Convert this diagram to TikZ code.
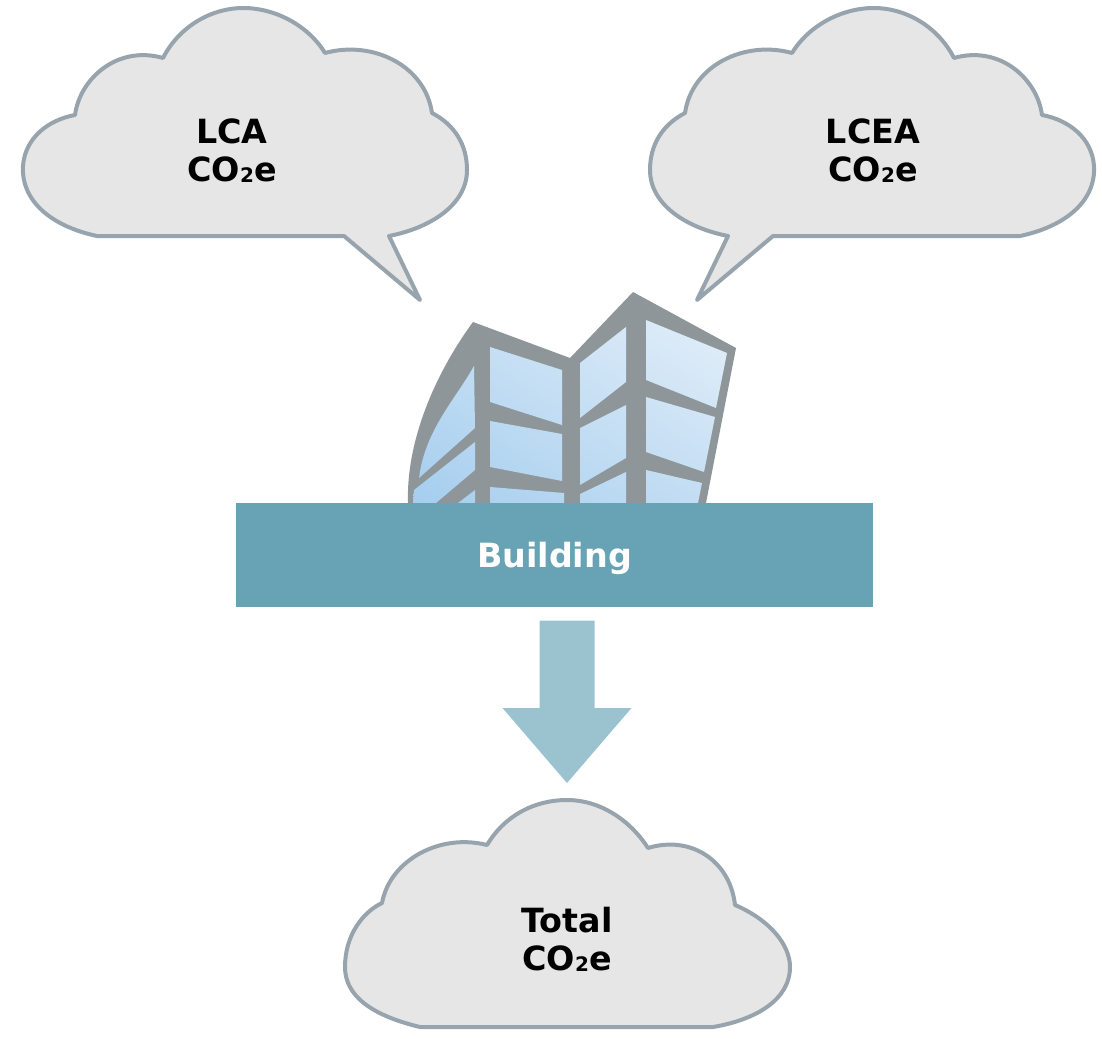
\documentclass[tikz,border=0pt]{standalone}
\usepackage{fontspec}
\setmainfont{DejaVu Sans}
\usetikzlibrary{calc,shadings}

\definecolor{cloudfill}{HTML}{E6E6E6}
\definecolor{cloudline}{HTML}{97A4AD}
\definecolor{barteal}{HTML}{67A3B4}
\definecolor{arrowblue}{HTML}{9BC3CF}
\definecolor{framegray}{HTML}{8E969A}
\definecolor{glasslo}{HTML}{A4CDEE}
\definecolor{glassmid}{HTML}{C6DFF4}
\definecolor{glasshi}{HTML}{EAF2FA}

\newcommand{\cotwoe}{CO\raisebox{-0.8pt}{\fontsize{15}{15}\selectfont 2}e}

% speech bubble outline, tail pointing down-right
\newcommand{\bubble}{(97,236) .. controls (50,226) and (21,200) .. (23,166)
  .. controls (25,138) and (48,120) .. (75,115)
  .. controls (80,78) and (118,45) .. (163,58)
  .. controls (180,25) and (213,8) .. (243,8)
  .. controls (278,8) and (310,28) .. (325,53)
  .. controls (372,40) and (425,65) .. (432,113)
  .. controls (455,125) and (467,145) .. (467,170)
  .. controls (467,205) and (430,228) .. (389,236)
  -- (420,300) -- (344,236) -- cycle}

\tikzset{every picture/.style={line width=0.75pt},
  cloudbody/.style={draw=cloudline, fill=cloudfill, line width=3pt, line join=round},
  cloudtext/.style={font=\fontsize{25}{28.5}\selectfont\bfseries, align=center, inner sep=0pt},
  bldgbar/.style={fill=barteal, minimum width=477.75pt, minimum height=78pt, inner sep=0pt,
    text=white, font=\fontsize{25}{30}\selectfont\bfseries, text height=19pt, text depth=0pt},
  flowarrow/.style={fill=arrowblue}
}

\begin{document}
\begin{tikzpicture}[x=0.75pt,y=0.75pt,yscale=-1,xscale=1]
\useasboundingbox (0,0) rectangle (1102,1038);

%Speech clouds
\draw[cloudbody] \bubble;
\begin{scope}[shift={(1117,0)}, xscale=-1]
\draw[cloudbody] \bubble;
\end{scope}

%Result cloud
\draw[cloudbody] (420,1027) .. controls (370,1015) and (345,995) .. (345,967)
  .. controls (345,935) and (363,912) .. (382,903)
  .. controls (390,860) and (440,833) .. (487,845)
  .. controls (505,815) and (535,800) .. (567,800)
  .. controls (600,800) and (630,820) .. (648,848)
  .. controls (690,835) and (730,860) .. (735,905)
  .. controls (770,920) and (790,945) .. (790,967)
  .. controls (790,1000) and (755,1020) .. (713,1027) -- cycle;

%Building frame
\fill[framegray] (408,503) .. controls (406,445) and (432,378) .. (473,322) -- (570,358)
  -- (633,292) -- (736,348) -- (706,503) -- cycle;

%Glass panes
\begin{scope}
\clip (474,366) .. controls (455,400) and (425,430) .. (419,478) -- (475,428) -- cycle
  (475,442) -- (475,470) -- (436,503) -- (413,503) -- (414,490) -- cycle
  (475,490) -- (475,503) -- (458,503) -- cycle
  (490,347) -- (562,370) -- (562,425) -- (490,402) -- cycle
  (490,421) -- (562,434) -- (562,481) -- (490,467) -- cycle
  (490,487) -- (564,493) -- (564,503) -- (490,503) -- cycle
  (580,363) -- (626,327) -- (626,382) -- (580,418) -- cycle
  (580,428) -- (626,405) -- (626,458) -- (580,485) -- cycle
  (580,494) -- (626,472) -- (626,503) -- (580,503) -- cycle
  (646,320) -- (727,353) -- (716,408) -- (646,380) -- cycle
  (646,397) -- (715,417) -- (704,472) -- (646,452) -- cycle
  (646,470) -- (702,483) -- (698,503) -- (646,503) -- cycle;
\shade[lower left=glasslo, upper right=glasshi, upper left=glassmid, lower right=glassmid]
  (405,285) rectangle (740,505);
\end{scope}

%Base bar and flow arrow
\node[bldgbar] (bar) at (554.5,555) {Building};
\coordinate (tip) at (567,783);
\fill[flowarrow] ($(bar.south -| tip)+(-27.5,13)$) -- ($(bar.south -| tip)+(27.5,13)$)
  -- ($(tip)+(27.5,-75)$) -- ($(tip)+(64.5,-75)$) -- (tip)
  -- ($(tip)+(-64.5,-75)$) -- ($(tip)+(-27.5,-75)$) -- cycle;

% Text Node
\node[cloudtext] (lca) at (232,151) {LCA\\\cotwoe};
% Text Node
\node[cloudtext] (lcea) at (873,151) {LCEA\\\cotwoe};
% Text Node
\node[cloudtext] (total) at (567,939) {Total\\\cotwoe};

\end{tikzpicture}
\end{document}
